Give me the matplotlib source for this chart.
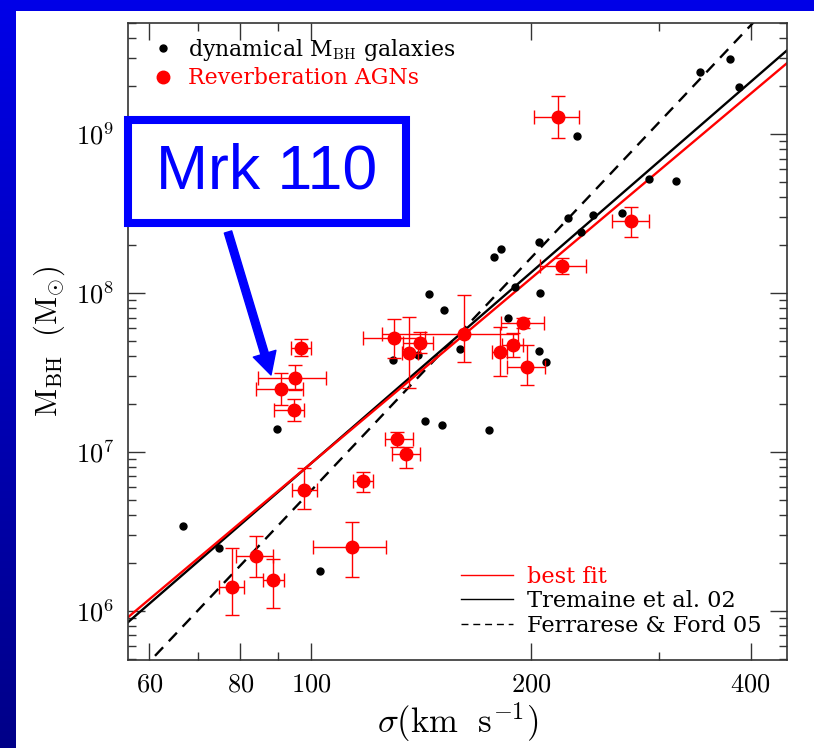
## M_BH - SIGMA RELATION WITH REVERBERATION AGNs (Mrk 110 HIGHLIGHTED)
import numpy as np
import matplotlib.pyplot as plt
from matplotlib.patches import Rectangle
from matplotlib.ticker import FixedLocator, NullFormatter

plt.rcParams['mathtext.fontset'] = 'cm'

## DATA:
# dynamical black hole masses (black dots)
dyn_sigma = [375, 341, 386, 231, 290, 316, 267, 243, 225, 234, 205, 182, 178, 190, 206,
             145, 152, 186, 129.5, 140, 160, 205, 210, 143, 151, 175, 89.8, 66.8, 74.8, 102.9]
dyn_mbh = [2.96e9, 2.45e9, 1.98e9, 9.7e8, 5.2e8, 5.1e8, 3.2e8, 3.1e8, 2.97e8, 2.42e8, 2.09e8,
           1.89e8, 1.68e8, 1.09e8, 1.0e8, 9.9e7, 7.8e7, 6.97e7, 3.8e7, 4.07e7, 4.44e7, 4.3e7,
           3.68e7, 1.57e7, 1.48e7, 1.37e7, 1.40e7, 3.43e6, 2.49e6, 1.79e6]

# reverberation AGNs (red points with error bars)
agn_sigma = [218, 274, 221, 96.9, 95.1, 90.9, 94.8, 130, 136.3, 141.1, 131.2, 134.9,
             117.8, 97.8, 162, 195.2, 189.1, 181.5, 197.6, 113.8, 84.1, 88.7, 77.9]
agn_sigma_lo = [202, 258, 206, 93.9, 84.6, 84.1, 89.0, 117.8, 133.2, 133.7, 126.3, 129.1,
                114.2, 94.2, 125.1, 182, 182.7, 177, 185.6, 100.6, 78.9, 85.9, 74.8]
agn_sigma_hi = [233, 290, 238, 100, 104.8, 97.5, 97.8, 143.3, 140.1, 146.9, 137.9, 141.1,
                121.6, 101.9, 192.1, 208.5, 195.2, 185.6, 209.2, 126.7, 88.7, 91.8, 80.9]
agn_mbh = [1.28e9, 2.84e8, 1.48e8, 4.51e7, 2.92e7, 2.49e7, 1.84e7, 5.21e7, 4.2e7, 4.85e7,
           1.21e7, 9.7e6, 6.58e6, 5.77e6, 5.52e7, 6.47e7, 4.71e7, 4.26e7, 3.43e7, 2.53e6,
           2.22e6, 1.57e6, 1.42e6]
agn_mbh_lo = [9.4e8, 2.25e8, 1.32e8, 4.02e7, 2.45e7, 1.98e7, 1.57e7, 3.9e7, 2.53e7, 4.2e7,
              1.07e7, 7.9e6, 5.6e6, 4.39e6, 3.68e7, 6.03e7, 3.96e7, 3.01e7, 2.64e7, 1.64e6,
              1.64e6, 1.04e6, 9.4e5]
agn_mbh_hi = [1.73e9, 3.47e8, 1.66e8, 5.14e7, 3.52e7, 3.14e7, 2.15e7, 6.86e7, 7.06e7, 5.69e7,
              1.34e7, 1.07e7, 7.48e6, 7.9e6, 9.7e7, 6.97e7, 5.6e7, 6.11e7, 4.71e7, 3.63e6,
              2.97e6, 2.12e6, 2.49e6]

# relations (end points across the plot)
fit_sigma = [56, 449]
best_fit_mbh = [9.04e5, 2.80e9]
tremaine_mbh = [8.41e5, 3.37e9]
ferrarese_mbh = [3.41e5, 8.45e9]

x_ticks = [60, 80, 100, 200, 400]
x_minor = [70, 90, 300]
y_ticks = [1e6, 1e7, 1e8, 1e9]
y_labels = [r'$10^{6}$', r'$10^{7}$', r'$10^{8}$', r'$10^{9}$']

## FIGURE AND SLIDE BACKGROUND:
fig = plt.figure(figsize=(8.14, 7.48), dpi=100)

bg = fig.add_axes([0, 0, 1, 1], zorder=-10)
grad = np.linspace(0, 1, 256).reshape(-1, 1)
top_c = np.array([0, 0, 232]) / 255.0
bot_c = np.array([0, 0, 136]) / 255.0
img = top_c[None, None, :] * (1 - grad[:, :, None]) + bot_c[None, None, :] * grad[:, :, None]
bg.imshow(img, aspect='auto', extent=[0, 1, 0, 1])
bg.add_patch(Rectangle((16 / 814, 0), 1, 1 - 11 / 748, facecolor='white', edgecolor='none'))
bg.set_xlim(0, 1)
bg.set_ylim(0, 1)
bg.axis('off')

ax = fig.add_axes([128 / 814, 1 - 660 / 748, 659 / 814, 637 / 748])
ax.set_facecolor('white')

## RELATIONS:
ax.plot(fit_sigma, ferrarese_mbh, color='black', lw=1.7, ls=(0, (5, 3.5)), label='Ferrarese & Ford 05')
ax.plot(fit_sigma, tremaine_mbh, color='black', lw=1.7, label='Tremaine et al. 02')
ax.plot(fit_sigma, best_fit_mbh, color='red', lw=1.7, label='best fit')

## POINTS:
dyn, = ax.plot(dyn_sigma, dyn_mbh, 'o', color='black', ms=5, ls='none',
               label=r'dynamical M$_{\rm BH}$ galaxies', zorder=3)

agn_sigma = np.array(agn_sigma)
agn_mbh = np.array(agn_mbh)
xerr = [agn_sigma - np.array(agn_sigma_lo), np.array(agn_sigma_hi) - agn_sigma]
yerr = [agn_mbh - np.array(agn_mbh_lo), np.array(agn_mbh_hi) - agn_mbh]
ax.errorbar(agn_sigma, agn_mbh, xerr=xerr, yerr=yerr, fmt='none', ecolor='red',
            elinewidth=1.0, capsize=5, capthick=1.0, zorder=4)
agn, = ax.plot(agn_sigma, agn_mbh, 'o', color='red', ms=9, ls='none',
               label='Reverberation AGNs', zorder=5)

## AXES:
ax.set_xscale('log')
ax.set_yscale('log')
ax.set_xlim(56.1, 448.8)
ax.set_ylim(4.9e5, 5.0e9)

ax.xaxis.set_major_locator(FixedLocator(x_ticks))
ax.xaxis.set_minor_locator(FixedLocator(x_minor))
ax.set_xticklabels([r'$%d$' % v for v in x_ticks])
ax.xaxis.set_minor_formatter(NullFormatter())
ax.yaxis.set_major_locator(FixedLocator(y_ticks))
ax.set_yticklabels(y_labels)
ax.yaxis.set_minor_locator(FixedLocator([m * 10 ** e for e in range(5, 10) for m in range(2, 10)]))
ax.yaxis.set_minor_formatter(NullFormatter())

ax.tick_params(which='both', direction='in', top=True, right=True, color='#333333', labelsize=19)
ax.tick_params(which='major', length=12, width=1.0, pad=8)
ax.tick_params(which='minor', length=6, width=1.0)
ax.tick_params(axis='y', which='major', pad=10)
for s in ax.spines.values():
    s.set_color('#333333')
    s.set_linewidth(1.2)

ax.set_xlabel(r'$\sigma(\rm km\ \ s^{-1})$', fontsize=25, labelpad=2)
ax.set_ylabel(r'$\rm M_{BH}\ \ (M_{\odot})$', fontsize=22, labelpad=6)

## LEGENDS:
leg1 = ax.legend(handles=[dyn, agn], loc='upper left', bbox_to_anchor=(0.038, 0.978),
                 frameon=False, handlelength=0.9, handletextpad=0.7, labelspacing=0.2,
                 borderpad=0, borderaxespad=0, labelcolor='markerfacecolor',
                 prop={'family': 'DejaVu Serif', 'size': 15.8})
leg1.legend_handles[0].set_markersize(5)
ax.add_artist(leg1)

h = ax.get_lines()
leg2 = ax.legend(handles=[h[2], h[1], h[0]], loc='lower right', bbox_to_anchor=(0.962, 0.036),
                 frameon=False, handlelength=2.3, handletextpad=0.65, labelspacing=0.12,
                 borderpad=0, borderaxespad=0, labelcolor='linecolor',
                 prop={'family': 'DejaVu Serif', 'size': 16.2})
for ln in leg2.get_lines():
    ln.set_linewidth(1.0)

## MRK 110 CALLOUT:
fig.add_artist(Rectangle((128 / 814, 1 - 223 / 748), 278 / 814, 103 / 748,
                         transform=fig.transFigure, facecolor='white', edgecolor='#0000FF',
                         lw=5.8, zorder=6))
fig.text(267 / 814, 1 - 172 / 748, 'Mrk 110', color='#0000FF', fontsize=45,
         family='Liberation Sans', ha='center', va='center', zorder=7)
ax.annotate('', xy=(271 / 814, 1 - 375 / 748), xytext=(228 / 814, 1 - 232 / 748),
            xycoords='figure fraction', textcoords='figure fraction', annotation_clip=False,
            arrowprops=dict(facecolor='#0000FF', edgecolor='#0000FF', width=5.5,
                            headwidth=17, headlength=16, shrink=0), zorder=8)

fig.savefig('out.png', dpi=100)
